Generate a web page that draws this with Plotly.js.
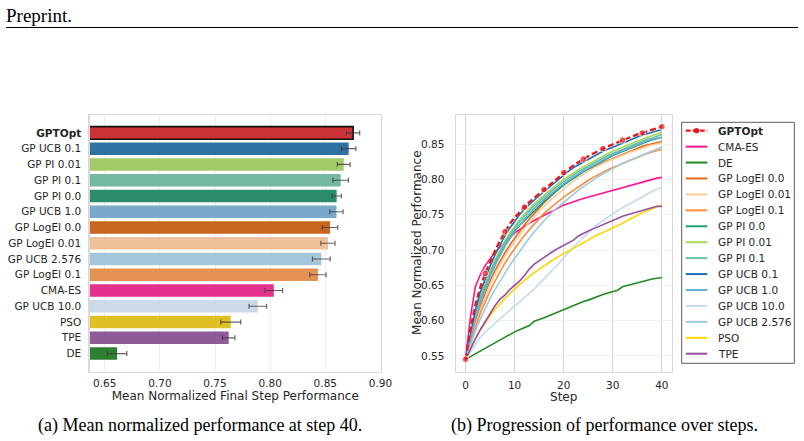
<!DOCTYPE html>
<html>
<head>
<meta charset="utf-8">
<script src="https://cdn.plot.ly/plotly-3.0.1.min.js"></script>
<style>
  html, body { margin: 0; padding: 0; background: #ffffff; }
  #chart { width: 804px; height: 441px; }
</style>
</head>
<body>
<div id="chart"></div>
<script>
// ---------- (a) final-step performance per method ----------
const barLabels = ['GPTOpt', 'GP UCB 0.1', 'GP PI 0.01', 'GP PI 0.1', 'GP PI 0.0', 'GP UCB 1.0',
  'GP LogEI 0.0', 'GP LogEI 0.01', 'GP UCB 2.576', 'GP LogEI 0.1', 'CMA-ES', 'GP UCB 10.0',
  'PSO', 'TPE', 'DE'];
const barMeans = [0.8752, 0.8712, 0.8667, 0.8639, 0.8603, 0.8601, 0.8543, 0.8524, 0.8464, 0.8433,
  0.8033, 0.7888, 0.7643, 0.7624, 0.6612];
const barErrors = [0.0060, 0.0065, 0.0058, 0.0070, 0.0042, 0.0060, 0.0070, 0.0064, 0.0080, 0.0074,
  0.0080, 0.0080, 0.0090, 0.0056, 0.0088];
const barTicks = [0.65, 0.70, 0.75, 0.80, 0.85, 0.90];

// ---------- (b) mean normalized performance per step ----------
const steps = [0, 1, 2, 3, 4, 5, 6, 7, 8, 9, 10, 11, 12, 13, 14, 15, 16, 17, 18, 19, 20,
  21, 22, 23, 24, 25, 26, 27, 28, 29, 30, 31, 32, 33, 34, 35, 36, 37, 38, 39, 40];

const gptopt = [0.545, 0.588, 0.622, 0.647, 0.667, 0.684, 0.699, 0.713, 0.726, 0.737, 0.746, 0.754, 0.761, 0.768, 0.774, 0.780, 0.786, 0.792, 0.798, 0.804, 0.810,
  0.815, 0.820, 0.825, 0.829, 0.833, 0.837, 0.841, 0.844, 0.847, 0.850, 0.853, 0.856, 0.859, 0.861, 0.864, 0.866, 0.868, 0.871, 0.873, 0.875];
const cmaEs = [0.545, 0.605, 0.648, 0.665, 0.678, 0.688, 0.697, 0.704, 0.711, 0.718, 0.724, 0.729, 0.734, 0.738, 0.742, 0.746, 0.749, 0.753, 0.756, 0.760, 0.764,
  0.766, 0.769, 0.771, 0.773, 0.775, 0.777, 0.779, 0.781, 0.782, 0.784, 0.786, 0.788, 0.790, 0.792, 0.794, 0.796, 0.798, 0.800, 0.802, 0.803];
const de = [0.545, 0.549, 0.553, 0.557, 0.561, 0.565, 0.568, 0.573, 0.577, 0.580, 0.584, 0.587, 0.590, 0.593, 0.599, 0.601, 0.604, 0.607, 0.610, 0.613, 0.616,
  0.619, 0.622, 0.624, 0.627, 0.629, 0.632, 0.634, 0.637, 0.639, 0.641, 0.643, 0.648, 0.650, 0.652, 0.654, 0.656, 0.657, 0.659, 0.660, 0.661];
const logEi00 = [0.545, 0.572, 0.598, 0.620, 0.639, 0.656, 0.671, 0.684, 0.696, 0.707, 0.717, 0.727, 0.736, 0.744, 0.752, 0.760, 0.767, 0.774, 0.781, 0.787, 0.793,
  0.798, 0.803, 0.808, 0.812, 0.815, 0.818, 0.821, 0.824, 0.826, 0.829, 0.832, 0.835, 0.838, 0.841, 0.844, 0.847, 0.849, 0.851, 0.853, 0.854];
const logEi001 = [0.545, 0.570, 0.594, 0.615, 0.634, 0.651, 0.666, 0.679, 0.691, 0.702, 0.712, 0.722, 0.731, 0.739, 0.747, 0.755, 0.762, 0.769, 0.775, 0.781, 0.787,
  0.793, 0.798, 0.803, 0.808, 0.812, 0.816, 0.820, 0.823, 0.826, 0.829, 0.832, 0.835, 0.837, 0.840, 0.842, 0.845, 0.847, 0.849, 0.851, 0.852];
const logEi01 = [0.545, 0.568, 0.590, 0.610, 0.627, 0.642, 0.656, 0.669, 0.681, 0.692, 0.702, 0.712, 0.721, 0.729, 0.737, 0.745, 0.752, 0.758, 0.764, 0.770, 0.775,
  0.780, 0.785, 0.790, 0.795, 0.799, 0.803, 0.807, 0.811, 0.814, 0.817, 0.820, 0.823, 0.826, 0.829, 0.832, 0.835, 0.837, 0.839, 0.841, 0.843];
const pi00 = [0.545, 0.576, 0.605, 0.628, 0.648, 0.665, 0.680, 0.694, 0.706, 0.717, 0.727, 0.735, 0.742, 0.749, 0.756, 0.762, 0.769, 0.775, 0.781, 0.787, 0.792,
  0.797, 0.802, 0.807, 0.811, 0.815, 0.819, 0.823, 0.827, 0.830, 0.834, 0.837, 0.840, 0.843, 0.846, 0.849, 0.852, 0.854, 0.856, 0.858, 0.860];
const pi001 = [0.545, 0.578, 0.609, 0.633, 0.653, 0.670, 0.686, 0.700, 0.713, 0.724, 0.734, 0.743, 0.751, 0.759, 0.766, 0.772, 0.778, 0.784, 0.790, 0.795, 0.800,
  0.805, 0.810, 0.814, 0.818, 0.822, 0.826, 0.830, 0.834, 0.837, 0.840, 0.843, 0.846, 0.849, 0.852, 0.855, 0.857, 0.860, 0.862, 0.865, 0.867];
const pi01 = [0.545, 0.577, 0.607, 0.631, 0.651, 0.668, 0.683, 0.697, 0.710, 0.721, 0.731, 0.740, 0.748, 0.756, 0.763, 0.769, 0.775, 0.781, 0.787, 0.792, 0.797,
  0.802, 0.807, 0.811, 0.815, 0.819, 0.823, 0.827, 0.831, 0.834, 0.837, 0.840, 0.843, 0.846, 0.849, 0.852, 0.855, 0.857, 0.859, 0.862, 0.864];
const ucb01 = [0.545, 0.582, 0.615, 0.640, 0.660, 0.677, 0.693, 0.707, 0.720, 0.731, 0.741, 0.750, 0.758, 0.765, 0.771, 0.777, 0.783, 0.789, 0.795, 0.801, 0.807,
  0.812, 0.817, 0.821, 0.825, 0.829, 0.833, 0.837, 0.840, 0.843, 0.846, 0.849, 0.852, 0.855, 0.858, 0.861, 0.863, 0.865, 0.867, 0.869, 0.871];
const ucb10 = [0.545, 0.574, 0.602, 0.625, 0.645, 0.662, 0.678, 0.692, 0.705, 0.716, 0.726, 0.735, 0.744, 0.752, 0.759, 0.766, 0.772, 0.778, 0.784, 0.789, 0.794,
  0.799, 0.804, 0.808, 0.812, 0.816, 0.820, 0.824, 0.828, 0.831, 0.835, 0.838, 0.841, 0.844, 0.847, 0.850, 0.852, 0.855, 0.857, 0.859, 0.860];
const ucb100 = [0.545, 0.556, 0.566, 0.576, 0.584, 0.590, 0.596, 0.602, 0.608, 0.614, 0.620, 0.627, 0.633, 0.639, 0.645, 0.652, 0.659, 0.666, 0.673, 0.681, 0.689,
  0.697, 0.704, 0.711, 0.718, 0.725, 0.731, 0.737, 0.742, 0.747, 0.752, 0.756, 0.760, 0.764, 0.768, 0.772, 0.776, 0.780, 0.783, 0.786, 0.789];
const ucb2576 = [0.545, 0.566, 0.585, 0.602, 0.617, 0.631, 0.644, 0.656, 0.667, 0.678, 0.688, 0.698, 0.708, 0.717, 0.726, 0.734, 0.742, 0.749, 0.756, 0.762, 0.768,
  0.774, 0.780, 0.785, 0.790, 0.795, 0.800, 0.804, 0.808, 0.812, 0.816, 0.819, 0.823, 0.826, 0.829, 0.832, 0.835, 0.838, 0.841, 0.844, 0.846];
const pso = [0.545, 0.560, 0.574, 0.586, 0.597, 0.607, 0.616, 0.624, 0.631, 0.638, 0.645, 0.651, 0.657, 0.663, 0.668, 0.673, 0.678, 0.682, 0.687, 0.691, 0.695,
  0.699, 0.703, 0.707, 0.711, 0.715, 0.719, 0.722, 0.725, 0.728, 0.731, 0.734, 0.738, 0.742, 0.745, 0.749, 0.753, 0.756, 0.759, 0.762, 0.764];
const tpe = [0.545, 0.560, 0.574, 0.587, 0.598, 0.611, 0.621, 0.630, 0.636, 0.644, 0.650, 0.656, 0.664, 0.673, 0.680, 0.685, 0.690, 0.694, 0.699, 0.703, 0.707,
  0.711, 0.714, 0.720, 0.724, 0.727, 0.730, 0.733, 0.737, 0.740, 0.742, 0.745, 0.748, 0.750, 0.752, 0.755, 0.757, 0.759, 0.760, 0.762, 0.762];

// legend order of the progression plot
const methodNames = ['GPTOpt', 'CMA-ES', 'DE', 'GP LogEI 0.0', 'GP LogEI 0.01', 'GP LogEI 0.1',
  'GP PI 0.0', 'GP PI 0.01', 'GP PI 0.1', 'GP UCB 0.1', 'GP UCB 1.0', 'GP UCB 10.0', 'GP UCB 2.576', 'PSO', 'TPE'];
const methodSeries = [gptopt, cmaEs, de, logEi00, logEi001, logEi01, pi00, pi001, pi01,
  ucb01, ucb10, ucb100, ucb2576, pso, tpe];

// line colours, and the softer bar shades used in the bar plot
const lineColors = {
  'GPTOpt': '#e41a1c', 'CMA-ES': '#ff1493', 'DE': '#228b22',
  'GP LogEI 0.0': '#e6670f', 'GP LogEI 0.01': '#fdcc9c', 'GP LogEI 0.1': '#fd8d3c',
  'GP PI 0.0': '#1b9e77', 'GP PI 0.01': '#a6d854', 'GP PI 0.1': '#66c2a5',
  'GP UCB 0.1': '#1f6fb4', 'GP UCB 1.0': '#6baed6', 'GP UCB 10.0': '#c6dbef', 'GP UCB 2.576': '#9ecae1',
  'PSO': '#ffd700', 'TPE': '#984ea3'
};
const barColors = {
  'GPTOpt': '#cd3336', 'CMA-ES': '#e3318d', 'DE': '#2e7f32',
  'GP LogEI 0.0': '#c8651e', 'GP LogEI 0.01': '#edc197', 'GP LogEI 0.1': '#e59152',
  'GP PI 0.0': '#2b8c6e', 'GP PI 0.01': '#a4c967', 'GP PI 0.1': '#74b8a0',
  'GP UCB 0.1': '#2f72a2', 'GP UCB 1.0': '#78a9cb', 'GP UCB 10.0': '#cbd9e8', 'GP UCB 2.576': '#a5c6da',
  'PSO': '#dfc024', 'TPE': '#8e5a98'
};

// ---------- page geometry (pixels -> paper fractions) ----------
const W = 804, H = 441;
const px = x => x / W;
const py = y => 1 - y / H;
const textColor = '#262626';
const chartFont = 'DejaVu Sans, sans-serif';
const serifFont = 'Liberation Serif, Times New Roman, serif';
const tickSize = 10.5, titleSize = 12;

const traces = [];

// bar plot
traces.push({
  type: 'bar', orientation: 'h', xaxis: 'x', yaxis: 'y',
  y: barLabels, x: barMeans, width: 0.8,
  marker: {
    color: barLabels.map(l => barColors[l]),
    line: {
      color: barLabels.map(l => l === 'GPTOpt' ? '#111111' : 'rgba(255,255,255,0)'),
      width: barLabels.map(l => l === 'GPTOpt' ? 1.6 : 0)
    }
  },
  error_x: { type: 'data', array: barErrors, visible: true, color: 'rgba(60,60,60,0.8)', thickness: 1.2, width: 2.5 },
  hoverinfo: 'x+y', showlegend: false
});

// progression lines: baselines first, GPTOpt on top
methodNames.forEach((name, i) => {
  if (name === 'GPTOpt') return;
  traces.push({
    type: 'scatter', mode: 'lines', xaxis: 'x2', yaxis: 'y2', name: name,
    x: steps, y: methodSeries[i],
    line: { color: lineColors[name], width: 1.6 },
    showlegend: false
  });
});
traces.push({
  type: 'scatter', mode: 'lines+markers', xaxis: 'x2', yaxis: 'y2', name: 'GPTOpt',
  x: steps, y: gptopt,
  line: { color: lineColors['GPTOpt'], width: 2.3, dash: '6px,3px' },
  marker: { color: lineColors['GPTOpt'], size: steps.map(s => s % 4 === 0 ? 6.5 : 0) },
  showlegend: false
});

// hand-placed legend for the progression plot
const shapes = [];
const annotations = [];
const legLeft = 681.7, legRight = 794.3, legTop = 122.3, legBottom = 363.3;
const rowTop = 130.7, rowGap = 15.93;
shapes.push({
  type: 'rect', xref: 'paper', yref: 'paper',
  x0: px(legLeft), x1: px(legRight), y0: py(legBottom), y1: py(legTop),
  line: { color: '#5a5a5a', width: 1 }, fillcolor: 'rgba(255,255,255,0.9)', layer: 'above'
});
methodNames.forEach((name, i) => {
  const yc = rowTop + i * rowGap;
  const isMain = name === 'GPTOpt';
  shapes.push({
    type: 'line', xref: 'paper', yref: 'paper',
    x0: px(685.7), x1: px(707.3), y0: py(yc), y1: py(yc),
    line: { color: lineColors[name], width: isMain ? 2.2 : 2, dash: isMain ? '5px,2px' : 'solid' },
    layer: 'above'
  });
  if (isMain) {
    shapes.push({
      type: 'circle', xref: 'paper', yref: 'paper',
      x0: px(696.5 - 2.6), x1: px(696.5 + 2.6), y0: py(yc + 2.6), y1: py(yc - 2.6),
      fillcolor: lineColors[name], line: { width: 0 }, layer: 'above'
    });
  }
  annotations.push({
    xref: 'paper', yref: 'paper', x: px(716), y: py(yc), xanchor: 'left', yanchor: 'middle',
    text: isMain ? '<b>' + name + '</b>' : name, showarrow: false,
    font: { family: chartFont, size: tickSize, color: textColor }
  });
});

// y title of the progression plot
annotations.push({
  xref: 'paper', yref: 'paper', x: px(417.5), y: py(243.4), xanchor: 'center', yanchor: 'middle',
  text: 'Mean Normalized Performance', textangle: -90, showarrow: false,
  font: { family: chartFont, size: titleSize, color: textColor }
});

// page header and sub-captions
annotations.push({
  xref: 'paper', yref: 'paper', x: px(4), y: py(15), xanchor: 'left', yanchor: 'middle',
  text: 'Preprint.', showarrow: false, font: { family: serifFont, size: 19, color: '#000' }
});
shapes.push({
  type: 'line', xref: 'paper', yref: 'paper', x0: px(6), x1: px(798), y0: py(27.5), y1: py(27.5),
  line: { color: '#000', width: 1 }
});
annotations.push({
  xref: 'paper', yref: 'paper', x: px(200), y: py(425), xanchor: 'center', yanchor: 'middle',
  text: '(a) Mean normalized performance at step 40.', showarrow: false,
  font: { family: serifFont, size: 18, color: '#000' }
});
annotations.push({
  xref: 'paper', yref: 'paper', x: px(604), y: py(425), xanchor: 'center', yanchor: 'middle',
  text: '(b) Progression of performance over steps.', showarrow: false,
  font: { family: serifFont, size: 18, color: '#000' }
});

const frame = { showline: true, mirror: true, linecolor: '#d9d9d9', linewidth: 1.2, zeroline: false, ticks: '' };

const layout = {
  width: W, height: H,
  margin: { l: 0, r: 0, t: 0, b: 0 },
  paper_bgcolor: '#ffffff', plot_bgcolor: '#ffffff',
  showlegend: false,
  font: { family: chartFont, size: tickSize, color: textColor },
  bargap: 0.2,
  xaxis: Object.assign({}, frame, {
    domain: [px(89.5), px(381)], anchor: 'y',
    range: [0.6362, 0.9005], tickvals: barTicks, ticktext: barTicks.map(v => v.toFixed(2)),
    showgrid: true, gridcolor: '#efefef', gridwidth: 1, ticklabelstandoff: 2,
    title: { text: 'Mean Normalized Final Step Performance', standoff: 2, font: { size: titleSize } }
  }),
  yaxis: Object.assign({}, frame, {
    domain: [py(371.5), py(115)], anchor: 'x',
    type: 'category', categoryorder: 'array', categoryarray: barLabels,
    range: [15.14, -1.14], showgrid: false,
    tickvals: barLabels, ticktext: barLabels.map(l => l === 'GPTOpt' ? '<b>' + l + '</b>' : l),
    ticklabelstandoff: 5
  }),
  xaxis2: Object.assign({}, frame, {
    domain: [px(455.7), px(671.7)], anchor: 'y2',
    range: [-2, 42], tickvals: [0, 10, 20, 30, 40],
    showgrid: true, gridcolor: '#d4d4d4', gridwidth: 1, ticklabelstandoff: 3,
    title: { text: 'Step', standoff: 1, font: { size: titleSize } }
  }),
  yaxis2: Object.assign({}, frame, {
    domain: [py(371.7), py(115)], anchor: 'x2',
    range: [0.5275, 0.8915], tickvals: [0.55, 0.60, 0.65, 0.70, 0.75, 0.80, 0.85],
    ticktext: ['0.55', '0.60', '0.65', '0.70', '0.75', '0.80', '0.85'],
    showgrid: true, gridcolor: '#f1f1f1', gridwidth: 1, ticklabelstandoff: 8
  }),
  shapes: shapes,
  annotations: annotations
};

Plotly.newPlot('chart', traces, layout, { displayModeBar: false, staticPlot: true });
</script>
</body>
</html>
